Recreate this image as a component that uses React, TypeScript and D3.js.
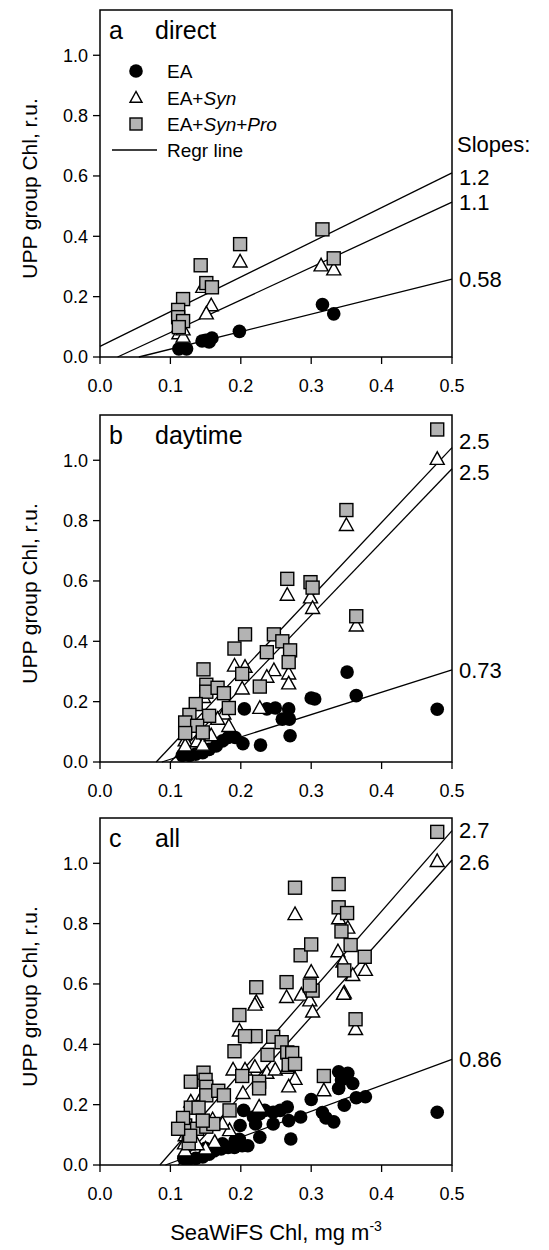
import React from "react";
import * as d3 from "d3";

// ---------- DATA ----------
const panelLetters = ["a", "b", "c"];
const panelNames = ["direct", "daytime", "all"];
const xTicks = [0, 0.1, 0.2, 0.3, 0.4, 0.5];
const yTicks = [0, 0.2, 0.4, 0.6, 0.8, 1.0];
const legendLabels = ["EA", "EA+Syn", "EA+Syn+Pro", "Regr line"];

// panel a: direct
const directEA = [[0.316,0.174],[0.332,0.143],[0.198,0.085],[0.159,0.063],[0.150,0.055],[0.145,0.053],[0.155,0.05],[0.112,0.027],[0.123,0.027],[0.117,0.033]];
const directSyn = [[0.199,0.315],[0.314,0.302],[0.332,0.289],[0.146,0.231],[0.158,0.170],[0.151,0.143],[0.112,0.077],[0.118,0.066],[0.112,0.10],[0.118,0.09]];
const directPro = [[0.143,0.304],[0.199,0.374],[0.316,0.423],[0.332,0.327],[0.151,0.245],[0.159,0.231],[0.118,0.192],[0.111,0.156],[0.111,0.132],[0.118,0.119],[0.112,0.099]];

// panel b: daytime
const dayEA = [[0.479,0.175],[0.351,0.298],[0.364,0.220],[0.300,0.212],[0.305,0.209],[0.205,0.176],[0.237,0.176],[0.249,0.179],[0.268,0.176],[0.259,0.142],[0.269,0.142],[0.270,0.087],[0.228,0.056],[0.203,0.061],[0.192,0.081],[0.182,0.081],[0.174,0.070],[0.165,0.053],[0.155,0.042],[0.146,0.031],[0.136,0.026],[0.127,0.022],[0.117,0.022]];
const daySyn = [[0.479,1.003],[0.350,0.784],[0.266,0.553],[0.299,0.544],[0.302,0.509],[0.364,0.451],[0.191,0.318],[0.206,0.314],[0.247,0.303],[0.237,0.281],[0.268,0.292],[0.268,0.259],[0.202,0.242],[0.176,0.159],[0.227,0.178],[0.147,0.214],[0.167,0.142],[0.183,0.118],[0.121,0.070],[0.138,0.067],[0.146,0.056],[0.158,0.087],[0.121,0.053]];
const dayPro = [[0.479,1.102],[0.350,0.835],[0.266,0.607],[0.299,0.596],[0.302,0.578],[0.364,0.483],[0.206,0.423],[0.191,0.376],[0.247,0.423],[0.237,0.364],[0.259,0.400],[0.270,0.370],[0.268,0.331],[0.202,0.292],[0.147,0.307],[0.151,0.256],[0.151,0.233],[0.167,0.246],[0.176,0.228],[0.227,0.250],[0.183,0.179],[0.136,0.192],[0.127,0.156],[0.155,0.153],[0.121,0.131],[0.138,0.120],[0.121,0.096],[0.146,0.098]];

// panel c: all
const allEA = [[0.479,0.175],[0.316,0.174],[0.332,0.143],[0.339,0.309],[0.352,0.304],[0.343,0.282],[0.359,0.270],[0.339,0.254],[0.364,0.223],[0.377,0.226],[0.347,0.198],[0.300,0.217],[0.321,0.156],[0.285,0.159],[0.266,0.192],[0.256,0.181],[0.246,0.175],[0.234,0.181],[0.227,0.170],[0.221,0.136],[0.218,0.159],[0.204,0.181],[0.199,0.131],[0.268,0.147],[0.271,0.086],[0.246,0.136],[0.227,0.092],[0.210,0.064],[0.202,0.064],[0.191,0.058],[0.182,0.058],[0.172,0.053],[0.162,0.047],[0.155,0.036],[0.146,0.027],[0.136,0.022],[0.126,0.019],[0.119,0.022],[0.150,0.055],[0.198,0.085],[0.174,0.070],[0.192,0.081]];
const allSyn = [[0.479,1.006],[0.277,0.830],[0.339,0.816],[0.352,0.785],[0.338,0.707],[0.345,0.673],[0.377,0.645],[0.359,0.628],[0.300,0.639],[0.265,0.555],[0.286,0.563],[0.347,0.570],[0.222,0.539],[0.298,0.544],[0.346,0.566],[0.302,0.507],[0.220,0.530],[0.198,0.444],[0.363,0.449],[0.189,0.315],[0.206,0.315],[0.220,0.324],[0.237,0.304],[0.249,0.315],[0.266,0.321],[0.277,0.284],[0.268,0.259],[0.318,0.246],[0.203,0.237],[0.226,0.192],[0.184,0.114],[0.129,0.209],[0.160,0.150],[0.174,0.136],[0.121,0.097],[0.163,0.075],[0.150,0.053],[0.121,0.047],[0.146,0.231],[0.138,0.067],[0.120,0.070]];
const allPro = [[0.479,1.104],[0.277,0.919],[0.339,0.931],[0.339,0.854],[0.351,0.835],[0.343,0.774],[0.285,0.695],[0.300,0.731],[0.356,0.729],[0.347,0.645],[0.376,0.690],[0.265,0.606],[0.222,0.589],[0.302,0.578],[0.298,0.595],[0.198,0.497],[0.363,0.483],[0.221,0.427],[0.206,0.427],[0.246,0.425],[0.258,0.407],[0.238,0.365],[0.266,0.373],[0.273,0.371],[0.191,0.377],[0.268,0.332],[0.277,0.335],[0.202,0.295],[0.226,0.276],[0.226,0.254],[0.318,0.295],[0.147,0.306],[0.129,0.276],[0.150,0.282],[0.151,0.259],[0.151,0.231],[0.168,0.246],[0.176,0.231],[0.184,0.181],[0.129,0.190],[0.140,0.190],[0.121,0.131],[0.138,0.120],[0.151,0.127],[0.161,0.136],[0.146,0.147],[0.126,0.072],[0.128,0.097],[0.118,0.156],[0.111,0.120]];

// regression lines [intercept, slope] for EA, EA+Syn, EA+Syn+Pro
const directRegr = [[-0.032,0.58],[-0.027,1.08],[0.035,1.15]];
const dayRegr = [[-0.065,0.74],[-0.243,2.43],[-0.198,2.48]];
const allRegr = [[-0.08,0.86],[-0.289,2.60],[-0.227,2.67]];
const directSlopes = ["0.58","1.1","1.2"];
const daySlopes = ["0.73","2.5","2.5"];
const allSlopes = ["0.86","2.6","2.7"];

const panelsData = [
  { ea: directEA, syn: directSyn, pro: directPro, regr: directRegr, slopes: directSlopes },
  { ea: dayEA, syn: daySyn, pro: dayPro, regr: dayRegr, slopes: daySlopes },
  { ea: allEA, syn: allSyn, pro: allPro, regr: allRegr, slopes: allSlopes },
];

// ---------- LAYOUT / STYLE ----------
const W = 549, H = 1250;
const LEFT = 100, RIGHT = 452;
const panelTops = [10, 415, 818];
const PH = 347;
const YMAX = 1.15;
const FONT = "'Liberation Sans', Arial, Helvetica, sans-serif";
const SQ_FILL = "#b3b3b3";
const slopeLabelDy = [[0, 0, 4], [0, 4, -6], [0, 2, 0]];

function Triangle({ cx, cy, s }: { cx: number; cy: number; s: number }) {
  const h = s * 0.9;
  const pts = `${cx},${cy - h * 0.6} ${cx - s / 2},${cy + h * 0.4} ${cx + s / 2},${cy + h * 0.4}`;
  return <polygon points={pts} fill="white" stroke="black" strokeWidth={1.4} />;
}

function Panel({ idx }: { idx: number }) {
  const top = panelTops[idx];
  const bottom = top + PH;
  const x = d3.scaleLinear().domain([0, 0.5]).range([LEFT, RIGHT]);
  const y = d3.scaleLinear().domain([0, YMAX]).range([bottom, top]);
  const d = panelsData[idx];
  const line = d3.line<number[]>().x((p) => x(p[0])).y((p) => y(p[1]));
  const fmt = d3.format(".1f");

  return (
    <g>
      <defs>
        <clipPath id={`clip${idx}`}>
          <rect x={LEFT} y={top} width={RIGHT - LEFT} height={PH} />
        </clipPath>
      </defs>
      {/* regression lines */}
      {d.regr.map(([a, b], i) => {
        const x0 = a >= 0 ? 0 : -a / b;
        const pts = [[x0, a + b * x0], [0.5, a + b * 0.5]];
        return <path key={i} d={line(pts) || ""} stroke="black" strokeWidth={1.3} fill="none" />;
      })}
      {/* markers */}
      <g clipPath={`url(#clip${idx})`}>
        {d.ea.map((p, i) => (
          <circle key={"e" + i} cx={x(p[0])} cy={y(p[1])} r={6.8} fill="black" />
        ))}
        {d.syn.map((p, i) => (
          <Triangle key={"s" + i} cx={x(p[0])} cy={y(p[1])} s={14} />
        ))}
        {d.pro.map((p, i) => (
          <rect key={"p" + i} x={x(p[0]) - 6.5} y={y(p[1]) - 6.5} width={13} height={13} fill={SQ_FILL} stroke="black" strokeWidth={1.4} />
        ))}
      </g>
      {/* frame */}
      <rect x={LEFT} y={top} width={RIGHT - LEFT} height={PH} fill="none" stroke="black" strokeWidth={1.5} />
      {/* y ticks */}
      {yTicks.map((t) => (
        <g key={"y" + t}>
          <line x1={LEFT - 7} x2={LEFT} y1={y(t)} y2={y(t)} stroke="black" strokeWidth={1.3} />
          <text x={LEFT - 12} y={y(t)} dy="0.35em" textAnchor="end" fontSize={18} fontFamily={FONT}>{fmt(t)}</text>
        </g>
      ))}
      {/* x ticks */}
      {xTicks.map((t) => (
        <g key={"x" + t}>
          <line x1={x(t)} x2={x(t)} y1={bottom} y2={bottom + 7} stroke="black" strokeWidth={1.3} />
          <text x={x(t)} y={bottom + 35} textAnchor="middle" fontSize={18} fontFamily={FONT}>{fmt(t)}</text>
        </g>
      ))}
      {/* panel label */}
      <text x={LEFT + 9} y={top + 29} fontSize={25} fontFamily={FONT}>{panelLetters[idx]}</text>
      <text x={LEFT + 55} y={top + 29} fontSize={25} fontFamily={FONT}>{panelNames[idx]}</text>
      {/* slope labels */}
      {d.regr.map(([a, b], i) => (
        <text key={"sl" + i} x={RIGHT + 7} y={y(a + b * 0.5) + slopeLabelDy[idx][i]} dy="0.35em" fontSize={22} fontFamily={FONT}>
          {d.slopes[i]}
        </text>
      ))}
      {/* y title */}
      <text transform={`translate(37,${(top + bottom) / 2 + 5}) rotate(-90)`} textAnchor="middle" fontSize={21} fontFamily={FONT}>
        UPP group Chl, r.u.
      </text>
    </g>
  );
}

function Legend() {
  const rows = [71, 98, 124, 150];
  const mx = 136, tx = 167;
  return (
    <g fontFamily={FONT} fontSize={19}>
      <circle cx={mx} cy={rows[0]} r={6.8} fill="black" />
      <Triangle cx={mx} cy={rows[1]} s={12} />
      <rect x={mx - 6} y={rows[2] - 6} width={12} height={12} fill={SQ_FILL} stroke="black" strokeWidth={1.4} />
      <line x1={112} x2={157} y1={rows[3]} y2={rows[3]} stroke="black" strokeWidth={1.3} />
      <text x={tx} y={rows[0]} dy="0.35em">{legendLabels[0]}</text>
      <text x={tx} y={rows[1]} dy="0.35em">EA+<tspan fontStyle="italic">Syn</tspan></text>
      <text x={tx} y={rows[2]} dy="0.35em">EA+<tspan fontStyle="italic">Syn</tspan>+<tspan fontStyle="italic">Pro</tspan></text>
      <text x={tx} y={rows[3]} dy="0.35em">{legendLabels[3]}</text>
    </g>
  );
}

export default function App() {
  return (
    <svg width={W} height={H} style={{ position: "absolute", left: 0, top: 0, background: "white" }}>
      <rect x={0} y={0} width={W} height={H} fill="white" />
      {[0, 1, 2].map((i) => (
        <Panel key={i} idx={i} />
      ))}
      <Legend />
      <text x={RIGHT + 5} y={152} fontSize={22} fontFamily={FONT}>Slopes:</text>
      <text x={(LEFT + RIGHT) / 2} y={1240} textAnchor="middle" fontSize={22} fontFamily={FONT}>
        SeaWiFS Chl, mg m<tspan dy={-9} fontSize={14}>-3</tspan>
      </text>
    </svg>
  );
}
